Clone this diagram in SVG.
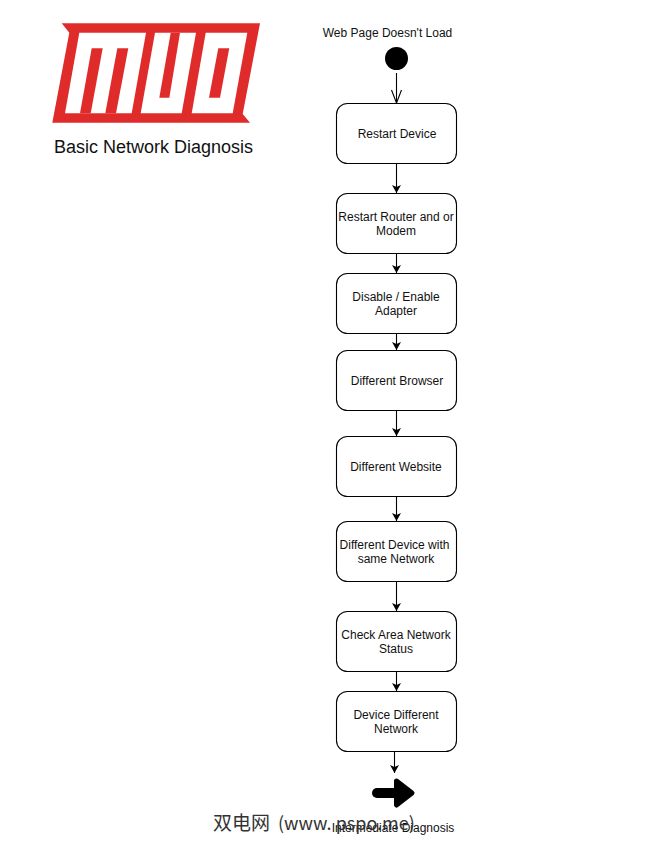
<svg xmlns="http://www.w3.org/2000/svg" width="670" height="847" viewBox="0 0 670 847">
<style>
text{font-family:"Liberation Sans",Arial,sans-serif;font-size:12px;fill:#111;text-anchor:middle}
.box{fill:#fff;stroke:#000;stroke-width:1.1}
.e{fill:none;stroke:#000;stroke-width:1.1}
.r{fill:#e02b2b}
.w{fill:#fff}
</style>
<defs>
<marker id="ah" markerUnits="userSpaceOnUse" markerWidth="10" markerHeight="10" refX="8" refY="4.5" orient="auto"><path d="M0 0L8 4.5L0 9L2 4.5Z" fill="#000"/></marker>
</defs>
<rect width="670" height="847" fill="#fff"/>
<g id="logo">
<polygon class="r" points="61.7,23.3 260,23.3 242.7,114 250,122.7 52.3,122.7 69.3,32.7"/>
<polygon class="w" points="79.3,32.7 146,32.7 131.7,113.3 65,113.3"/>
<polygon class="w" points="155,32.7 196,32.7 181.7,113.3 140.7,113.3"/>
<polygon class="w" points="205.7,32.7 247.3,32.7 232.7,113.3 191.7,113.3"/>
<polygon class="r" points="91.7,48.3 102.7,48.3 90.7,113.3 80,113.3"/>
<polygon class="r" points="117.3,48.3 128.3,48.3 116,113.3 105.3,113.3"/>
<polygon class="r" points="170.7,32.7 180,32.7 169.3,97.7 159.3,97.7"/>
<polygon class="r" points="218.3,48.3 229.3,48.3 220,97.7 209,97.7"/>
</g>
<text id="title" x="153.500" y="153" style="font-size:18px">Basic Network Diagnosis</text>
<g id="connectors">
<path class="e" d="M396.500 73V103"/>
<path class="e" d="M391.500 90L396.500 103L401.500 90"/>
<path class="e" d="M396.500 163V193" marker-end="url(#ah)"/>
<path class="e" d="M396.500 253V273" marker-end="url(#ah)"/>
<path class="e" d="M396.500 333V350" marker-end="url(#ah)"/>
<path class="e" d="M396.500 410V436" marker-end="url(#ah)"/>
<path class="e" d="M396.500 496V521" marker-end="url(#ah)"/>
<path class="e" d="M396.500 581V611" marker-end="url(#ah)"/>
<path class="e" d="M396.500 671V691" marker-end="url(#ah)"/>
<path class="e" d="M394.500 751V773" marker-end="url(#ah)"/>
</g>
<g id="start"><text x="387.500" y="37">Web Page Doesn't Load</text><circle cx="396.500" cy="58.500" r="11.500" fill="#000"/></g>
<g id="n1"><rect class="box" x="336.500" y="103.500" width="120" height="60" rx="11"/><text x="397" y="138">Restart Device</text></g>
<g id="n2"><rect class="box" x="336.500" y="193.500" width="120" height="60" rx="11"/><text x="396" y="221">Restart Router and or</text><text x="396" y="235">Modem</text></g>
<g id="n3"><rect class="box" x="336.500" y="273.500" width="120" height="60" rx="11"/><text x="396" y="301">Disable / Enable</text><text x="396" y="315">Adapter</text></g>
<g id="n4"><rect class="box" x="336.500" y="350.500" width="120" height="60" rx="11"/><text x="397" y="385">Different Browser</text></g>
<g id="n5"><rect class="box" x="336.500" y="436.500" width="120" height="60" rx="11"/><text x="396" y="471">Different Website</text></g>
<g id="n6"><rect class="box" x="336.500" y="521.500" width="120" height="60" rx="11"/><text x="394.500" y="549">Different Device with</text><text x="396" y="563">same Network</text></g>
<g id="n7"><rect class="box" x="336.500" y="611.500" width="120" height="60" rx="11"/><text x="396" y="639">Check Area Network</text><text x="396" y="653">Status</text></g>
<g id="n8"><rect class="box" x="336.500" y="691.500" width="120" height="60" rx="11"/><text x="396" y="719">Device Different</text><text x="396" y="733">Network</text></g>
<g id="end"><path d="M377 793H396M396.500 781L412 793L396.500 805Z" fill="#000" stroke="#000" stroke-width="5" stroke-linejoin="round" stroke-linecap="round"/><path d="M377 793H396" stroke="#000" stroke-width="10" stroke-linecap="round"/><text x="393" y="832">Intermediate Diagnosis</text></g>
<text id="wm" x="213" y="830" style="font-family:'Noto Sans CJK SC','Noto Sans',sans-serif;font-size:19px;fill:#333;text-anchor:start">双电网<tspan dx="8" style="font-size:18px">(www. pspo.me)</tspan></text>
</svg>
